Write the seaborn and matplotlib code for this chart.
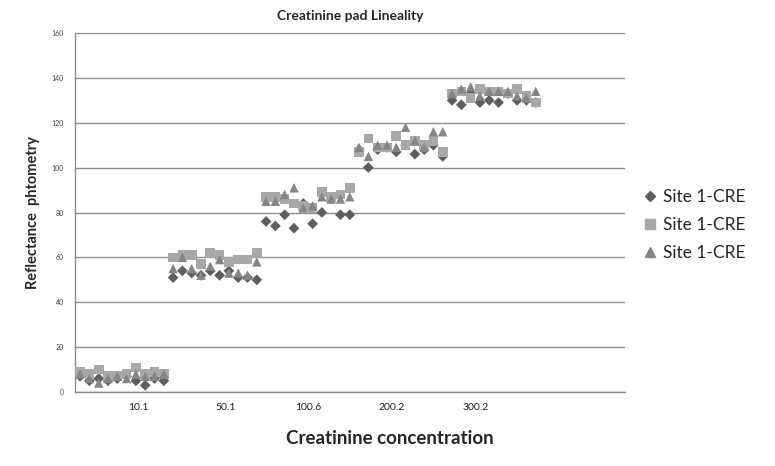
import matplotlib
matplotlib.use("Agg")
import matplotlib.pyplot as plt
from matplotlib.lines import Line2D
import seaborn as sns
import pandas as pd

# concentration groups, 10 readings per group per series
concentrations = ["10.1", "50.1", "100.6", "200.2", "300.2"]
tick_pos = [6.3, 15.6, 24.5, 33.5, 42.5]

series_a = [7, 5, 6, 5, 6, 7, 5, 3, 6, 5,
            51, 54, 53, 52, 54, 52, 54, 51, 51, 50,
            76, 74, 79, 73, 84, 75, 80, 86, 79, 79,
            108, 100, 108, 109, 107, 110, 106, 108, 110, 105,
            130, 128, 133, 129, 130, 129, 133, 130, 130, 129]
series_b = [9, 8, 10, 7, 7, 8, 11, 8, 9, 8,
            60, 61, 61, 57, 62, 61, 58, 59, 59, 62,
            87, 87, 86, 84, 83, 82, 89, 87, 88, 91,
            107, 113, 109, 109, 114, 110, 112, 110, 112, 107,
            133, 134, 131, 135, 134, 134, 133, 135, 132, 129]
series_c = [8, 6, 4, 6, 7, 6, 8, 7, 7, 8,
            55, 60, 55, 52, 56, 59, 53, 53, 52, 58,
            85, 85, 88, 91, 82, 83, 87, 86, 86, 87,
            109, 105, 110, 110, 109, 118, 112, 109, 116, 116,
            133, 135, 136, 132, 134, 134, 134, 132, 131, 134]
series_label = "Site 1-CRE"

sns.set_theme(style="white")
plt.rcParams["font.family"] = ["Lato", "DejaVu Sans"]

idx = list(range(len(series_a)))
df = pd.DataFrame({"idx": idx, "a": series_a, "b": series_b, "c": series_c})

fig = plt.figure(figsize=(7.75, 4.66), dpi=100)
ax = fig.add_axes([75 / 775, 74 / 466, 550 / 775, 359 / 466])

styles = [("a", "D", "#5e5e5e", 30), ("b", "s", "#a8a8a8", 48), ("c", "^", "#858585", 46)]
for col, mk, colr, sz in styles:
    sns.scatterplot(data=df, x="idx", y=col, marker=mk, color=colr, s=sz,
                    edgecolor="none", ax=ax, zorder=3)

ax.set_xlim(-0.55, 58.6)
ax.set_ylim(0, 160)
ax.set_yticks(range(0, 161, 20))
ax.set_yticklabels([str(v) for v in range(0, 161, 20)], fontsize=5, color="#444444")
ax.set_xticks(tick_pos)
ax.set_xticklabels(concentrations, fontsize=7.5, color="#222222")
ax.tick_params(axis="x", length=0, pad=8)
ax.tick_params(axis="y", length=0, pad=8)
ax.yaxis.grid(True, color="#8c8c8c", linewidth=1.0)
ax.set_axisbelow(True)
for side in ["top", "right"]:
    ax.spines[side].set_visible(False)
for side in ["left", "bottom"]:
    ax.spines[side].set_color("#8c8c8c")
    ax.spines[side].set_linewidth(1.0)

ax.set_xlabel("")
ax.set_ylabel("Reflectance  phtometry", fontsize=10.5, fontweight="bold", labelpad=8)
ax.set_title("Creatinine pad Lineality", fontsize=10, fontweight="bold", pad=9)
fig.text(390 / 775, 1 - 438 / 466, "Creatinine concentration", fontsize=13.5,
         fontweight="bold", ha="center", va="center")

handles = [Line2D([], [], linestyle="none", marker=mk, color=colr,
                  markersize=(5 if mk == "D" else 7))
           for _, mk, colr, _ in styles]
fig.legend(handles, [series_label] * 3, loc="center left",
           bbox_to_anchor=(628 / 775, 1 - 225 / 466), frameon=False,
           fontsize=12.5, handlelength=0.7, handletextpad=0.4, labelspacing=0.7)

fig.savefig("out.png", dpi=100)
